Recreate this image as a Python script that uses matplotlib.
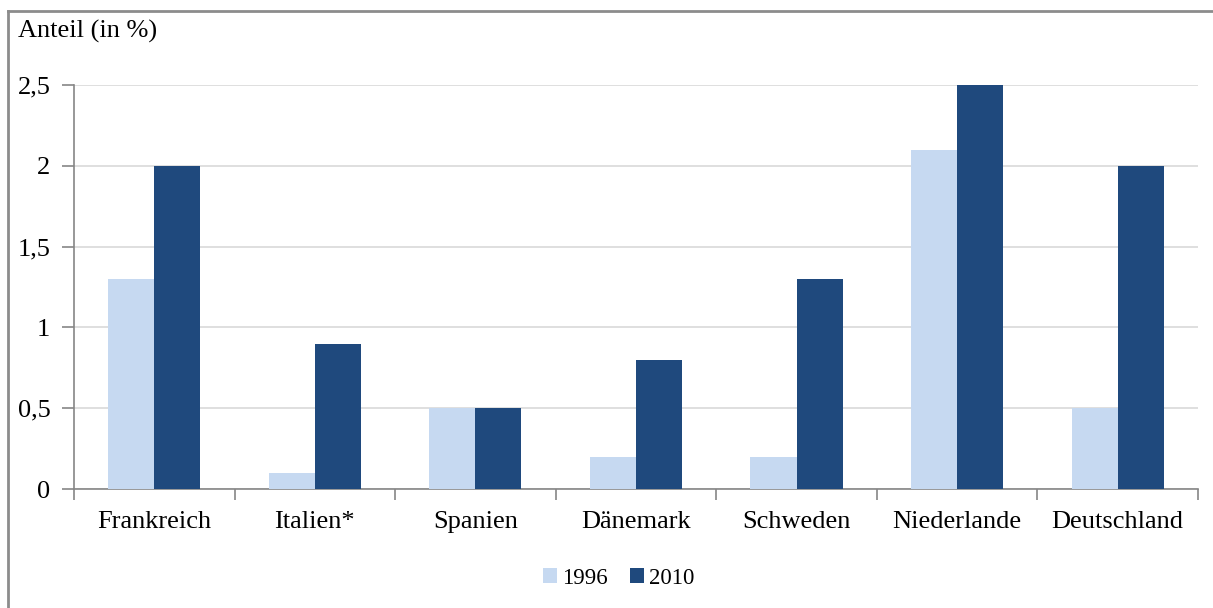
import matplotlib
matplotlib.use("Agg")
import matplotlib.pyplot as plt
from matplotlib.lines import Line2D
from matplotlib.ticker import FixedLocator
import numpy as np

# Daten
laender = ["Frankreich", "Italien*", "Spanien", "Dänemark", "Schweden", "Niederlande", "Deutschland"]
werte_1996 = [1.3, 0.1, 0.5, 0.2, 0.2, 2.1, 0.5]
werte_2010 = [2.0, 0.9, 0.5, 0.8, 1.3, 2.5, 2.0]
y_ticks = [0, 0.5, 1, 1.5, 2, 2.5]
y_labels = ["0", "0,5", "1", "1,5", "2", "2,5"]

plt.rcParams["font.family"] = ["Liberation Serif", "DejaVu Serif"]
grau = "#868686"

fig = plt.figure(figsize=(12.13, 6.08), dpi=100)
ax = fig.add_axes([0.061, 0.1957, 0.9266, 0.6643])

x = np.arange(len(laender))
breite = 0.287
ax.bar(x - breite / 2, werte_1996, breite, color="#C6D9F1", label="1996", zorder=3)
ax.bar(x + breite / 2, werte_2010, breite, color="#1F497D", label="2010", zorder=3)

ax.set_xlim(-0.5, len(laender) - 0.5)
ax.set_ylim(0, 2.5)
ax.set_yticks(y_ticks)
ax.set_yticklabels(y_labels)
ax.yaxis.grid(True, color="#D9D9D9", linewidth=1.2, zorder=0)

# Kategorien: Beschriftung mittig, Striche zwischen den Kategorien
ax.set_xticks(np.arange(len(laender) + 1) - 0.5)
ax.set_xticklabels([""] * (len(laender) + 1))
ax.xaxis.set_minor_locator(FixedLocator(x))
ax.set_xticklabels(laender, minor=True)
ax.tick_params(axis="x", which="minor", length=0, pad=16, labelsize=19)
ax.tick_params(axis="x", which="major", length=8, width=1.2, color=grau, direction="out")
ax.tick_params(axis="y", length=9, width=1.2, color=grau, direction="out", pad=8, labelsize=19)

for s in ["top", "right"]:
    ax.spines[s].set_visible(False)
for s in ["left", "bottom"]:
    ax.spines[s].set_color(grau)
    ax.spines[s].set_linewidth(1.2)

fig.text(18 / 1213, 1 - 31 / 608, "Anteil (in %)", fontsize=19, va="center", ha="left")

fig.legend(loc="center", bbox_to_anchor=(0.51, 1 - 578 / 608), ncol=2, frameon=False,
           fontsize=16.5, handlelength=0.6, handleheight=0.6, handletextpad=0.2,
           columnspacing=1.0)

# Rahmen
fig.add_artist(Line2D([8 / 1213, 8 / 1213], [0, 1 - 11 / 608], color="#8C8C8C", linewidth=2))
fig.add_artist(Line2D([8 / 1213, 1], [1 - 11 / 608, 1 - 11 / 608], color="#8C8C8C", linewidth=2))

fig.savefig("out.png", dpi=100)
